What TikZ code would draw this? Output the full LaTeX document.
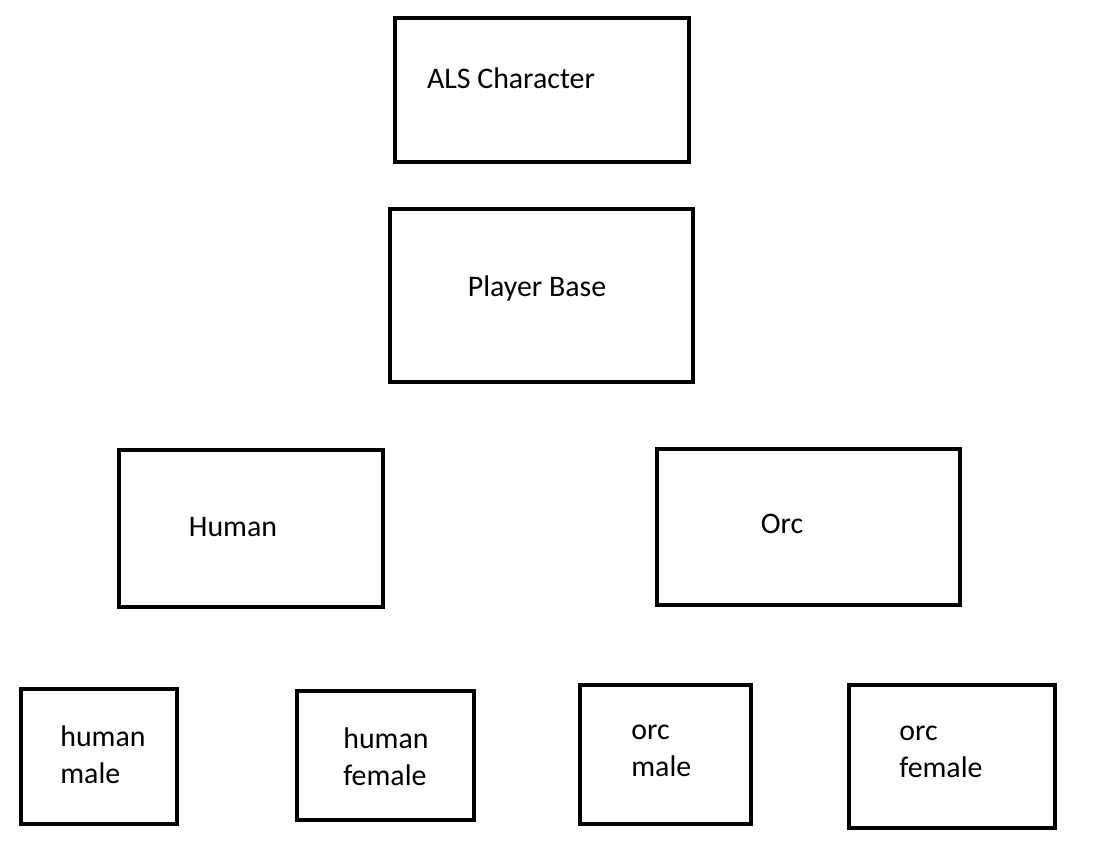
\documentclass[tikz,border=0pt]{standalone}
\usepackage{fontspec}
\setmainfont{Carlito}
\tikzset{
  boxline/.style={draw, line width=2.2pt},
  lbl/.style={font=\fontsize{17}{21}\selectfont, inner sep=0pt},
  lbltwo/.style={font=\fontsize{17}{21}\selectfont, inner sep=0pt, align=left, anchor=west}
}
\begin{document}
\begin{tikzpicture}[x=0.02cm, y=-0.02cm]
  \useasboundingbox (0,0) rectangle (1095,842);
  % Boxes
  \draw[boxline] (395,18) rectangle (689,162);
  \draw[boxline] (390,209) rectangle (693,382);
  \draw[boxline] (119,450) rectangle (383,607);
  \draw[boxline] (657,449) rectangle (960,605);
  \draw[boxline] (21,689) rectangle (177,824);
  \draw[boxline] (297,691) rectangle (474,820);
  \draw[boxline] (580,685) rectangle (751,824);
  \draw[boxline] (849,685) rectangle (1055,828);
  % Labels
  \node[lbl] (als) at (511,78) {ALS Character};
  \node[lbl] (playerbase) at (537,289) {Player Base};
  \node[lbl] (human) at (233,527) {Human};
  \node[lbl] (orc) at (782,524) {Orc};
  \node[lbltwo] (humanmale) at (60,755) {human\\male};
  \node[lbltwo] (humanfemale) at (343,757) {human\\female};
  \node[lbltwo] (orcmale) at (631,751) {orc\\male};
  \node[lbltwo] (orcfemale) at (899,752) {orc\\female};
\end{tikzpicture}
\end{document}
